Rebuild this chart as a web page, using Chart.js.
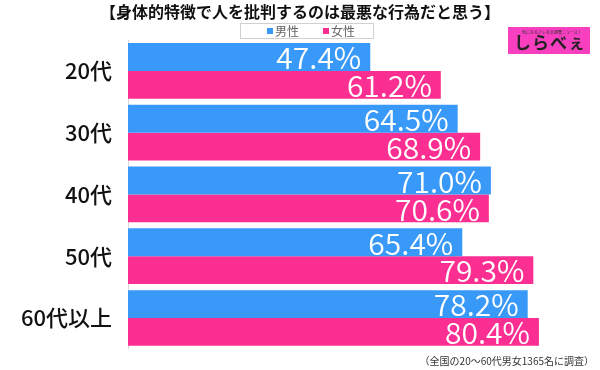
<!DOCTYPE html>
<html>
<head>
<meta charset="utf-8">
<script src="https://cdn.jsdelivr.net/npm/chart.js@4"></script>
<style>
  html, body { margin: 0; padding: 0; background: #fff; }
  #wrap { position: relative; width: 600px; height: 370px; font-family: "Noto Sans CJK JP", "Noto Sans", sans-serif; }
  #chart { position: absolute; left: 0; top: 0; }
  .title { position: absolute; left: 0; top: 1px; width: 600px; text-align: center; font-size: 16px; font-weight: bold; color: #111; line-height: 20px; }
  .legend { position: absolute; left: 240px; top: 23px; width: 132px; height: 14px; border: 1px solid #d0d0d0; font-size: 12px; line-height: 14px; color: #666; }
  .legend span { position: absolute; top: 0; }
  .legend i { display: inline-block; width: 6px; height: 6px; margin-right: 2px; vertical-align: 2px; }
  .logo { position: absolute; left: 508px; top: 27px; width: 82px; height: 27px; background: #f73fbf; }
  .logo .tag { position: absolute; left: 14px; top: 2px; font-size: 4px; color: #333; white-space: nowrap; }
  .logo .name { position: absolute; left: 6px; top: 5px; font-size: 17px; font-weight: bold; color: #222; line-height: 20px; letter-spacing: 1px; }
  .note { position: absolute; right: 6px; top: 354px; font-size: 10px; color: #333; line-height: 14px; }
</style>
</head>
<body>
<div id="wrap">
  <canvas id="chart" width="600" height="370"></canvas>
  <div class="title">【身体的特徴で人を批判するのは最悪な行為だと思う】</div>
  <div class="legend">
    <span style="left:26px"><i style="background:#3899f8"></i>男性</span>
    <span style="left:82px"><i style="background:#fb2f91"></i>女性</span>
  </div>
  <div class="logo"><div class="tag">気になるアレを大調査ニュース！</div><div class="name">しらべぇ</div></div>
  <div class="note">（全国の20〜60代男女1365名に調査）</div>
</div>
<script>
const categories = ["20代", "30代", "40代", "50代", "60代以上"];
const maleValues = [47.4, 64.5, 71.0, 65.4, 78.2];
const femaleValues = [61.2, 68.9, 70.6, 79.3, 80.4];

// white value labels inside the bar ends
const valueLabels = {
  id: "valueLabels",
  afterDatasetsDraw(chart) {
    const ctx = chart.ctx;
    ctx.save();
    ctx.fillStyle = "#fff";
    ctx.font = '350 30px "Noto Sans CJK JP", "Noto Sans", sans-serif';
    ctx.textAlign = "right";
    ctx.textBaseline = "middle";
    chart.data.datasets.forEach((ds, i) => {
      chart.getDatasetMeta(i).data.forEach((bar, j) => {
        ctx.fillText(ds.data[j].toFixed(1) + "%", bar.x - 9, bar.y + 1);
      });
    });
    ctx.restore();
  },
};

new Chart(document.getElementById("chart").getContext("2d"), {
  type: "bar",
  data: {
    labels: categories,
    datasets: [
      { label: "男性", data: maleValues, backgroundColor: "#3899f8" },
      { label: "女性", data: femaleValues, backgroundColor: "#fb2f91" },
    ],
  },
  options: {
    indexAxis: "y",
    responsive: false,
    animation: false,
    datasets: {
      bar: { barPercentage: 1, categoryPercentage: 0.9, borderWidth: 0 },
    },
    layout: { padding: { top: 40, bottom: 2, left: 0, right: 12 } },
    plugins: { legend: { display: false }, tooltip: { enabled: false } },
    scales: {
      x: { display: false, min: 0, max: 90 },
      y: {
        afterFit(scale) { scale.width = 128; },
        grid: { display: false },
        border: { display: true, color: "#d8d8d8", width: 1 },
        ticks: {
          color: "#111",
          padding: 8,
          font: { size: 22, weight: 500, family: '"Noto Sans CJK JP", "Noto Sans", sans-serif' },
        },
      },
    },
  },
  plugins: [valueLabels],
});
</script>
</body>
</html>
